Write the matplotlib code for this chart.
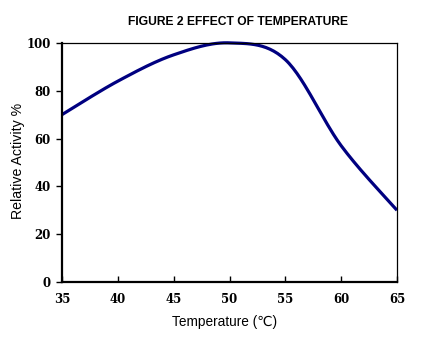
import numpy as np
import matplotlib
matplotlib.use("Agg")
import matplotlib.pyplot as plt

# Relative activity measured at each temperature
temperature = [35, 40, 45, 50, 55, 60, 65]
activity = [70, 84, 95, 100, 93, 57, 30]


def smooth_line(x, y, n=30):
    # Bezier smoothing through the points (same style as a spreadsheet "smoothed line")
    x = np.asarray(x, float)
    y = np.asarray(y, float)
    xs, ys = [x[0]], [y[0]]
    for i in range(len(x) - 1):
        x0, y0 = x[i], y[i]
        x3, y3 = x[i + 1], y[i + 1]
        xp, yp = (x[i - 1], y[i - 1]) if i > 0 else (x0, y0)
        xn, yn = (x[i + 2], y[i + 2]) if i + 2 < len(x) else (x3, y3)
        x1, y1 = x0 + (x3 - xp) / 6, y0 + (y3 - yp) / 6
        x2, y2 = x3 - (xn - x0) / 6, y3 - (yn - y0) / 6
        t = np.linspace(0, 1, n)[1:]
        a, b, c, d = (1 - t) ** 3, 3 * (1 - t) ** 2 * t, 3 * (1 - t) * t ** 2, t ** 3
        xs.extend(a * x0 + b * x1 + c * x2 + d * x3)
        ys.extend(a * y0 + b * y1 + c * y2 + d * y3)
    return np.array(xs), np.array(ys)


fig = plt.figure(figsize=(4.25, 3.43), dpi=100)
ax = fig.add_axes([0.146, 0.178, 0.788, 0.697])

sx, sy = smooth_line(temperature, activity)
ax.plot(sx, sy, color="#000080", linewidth=2.3, solid_capstyle="butt", clip_on=False)

ax.set_xlim(35, 65)
ax.set_ylim(0, 100)
ax.set_xticks(range(35, 66, 5))
ax.set_yticks(range(0, 101, 20))

for side in ["left", "bottom"]:
    ax.spines[side].set_linewidth(1.6)
for side in ["top", "right"]:
    ax.spines[side].set_linewidth(0.9)

ax.tick_params(axis="y", direction="out", length=4, width=1, pad=4)
ax.tick_params(axis="x", direction="in", length=4, width=1, pad=8)
for lab in ax.get_xticklabels() + ax.get_yticklabels():
    lab.set_fontfamily("DejaVu Serif")
    lab.set_fontweight("bold")
    lab.set_fontsize(8.5)

sans = ["Liberation Sans", "DejaVu Sans"]
fig.text(0.56, 0.935, "FIGURE 2 EFFECT OF TEMPERATURE", ha="center", va="center",
         fontsize=8.7, fontweight="bold", family=sans)
ax.set_xlabel("Temperature (\u2103)", fontsize=9.8, family=sans)
ax.xaxis.set_label_coords(0.485, -0.14)
ax.set_ylabel("Relative Activity %", fontsize=10.2, family=sans)
ax.yaxis.set_label_coords(-0.11, 0.506)

fig.savefig("out.png", dpi=100)
